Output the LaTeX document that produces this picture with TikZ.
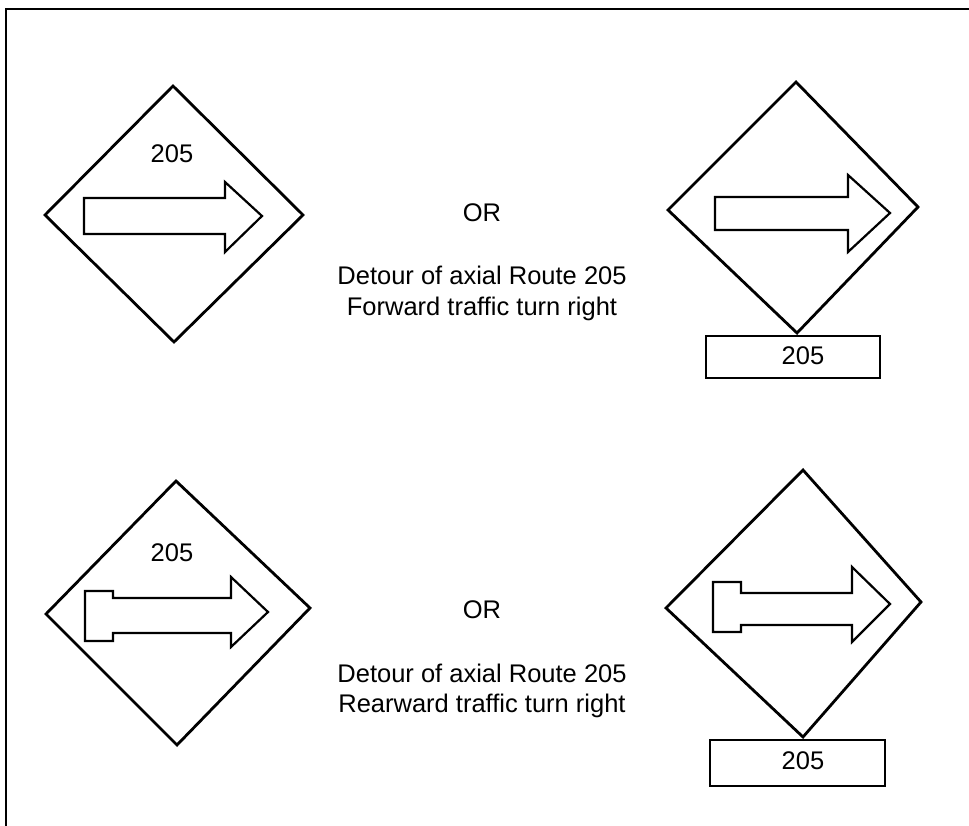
\documentclass[tikz,border=0pt]{standalone}
\usepackage{fontspec}
\setmainfont{Liberation Sans}
\begin{document}
\begin{tikzpicture}[x=1pt,y=-1pt,
  sign/.style={line width=2.8pt,line join=miter},
  arrowshape/.style={line width=2.2pt,line join=miter},
  plate/.style={line width=2.4pt},
  lbl/.style={anchor=base,inner sep=0pt,font=\fontsize{25.5}{31}\selectfont}]
\useasboundingbox (0,0) rectangle (969,826);
% frame
\draw[line width=2pt] (6,826) -- (6,9) -- (969,9);
% ---- sign 1 ----
\draw[sign] (173,86) -- (303,215) -- (174,342) -- (45,215) -- cycle;
\node[lbl] (n1) at (172,163) {205};
\draw[arrowshape] (84,198) -- (225,198) -- (225,182) -- (262,216) -- (225,252) -- (225,234) -- (84,234) -- cycle;
% ---- sign 2 ----
\draw[sign] (796,82) -- (918,207) -- (797,333) -- (668,210) -- cycle;
\draw[arrowshape] (715,197) -- (848,197) -- (848,175) -- (890,213) -- (848,252) -- (848,230) -- (715,230) -- cycle;
\draw[plate] (706,336) rectangle (880,378);
\node[lbl] (n2) at (803,364) {205};
% ---- sign 3 ----
\draw[sign] (176,481) -- (310,608) -- (177,745) -- (46,614) -- cycle;
\node[lbl] (n3) at (172,561) {205};
\draw[arrowshape] (85,591) -- (113,591) -- (113,598) -- (231,598) -- (231,577) -- (268,612) -- (231,647) -- (231,633) -- (113,633) -- (113,641) -- (85,641) -- cycle;
% ---- sign 4 ----
\draw[sign] (803,470) -- (921,602) -- (803,737) -- (666,608) -- cycle;
\draw[arrowshape] (713,582) -- (741,582) -- (741,593) -- (852,593) -- (852,567) -- (890,604) -- (852,642) -- (852,625) -- (741,625) -- (741,632) -- (713,632) -- cycle;
\draw[plate] (710,740) rectangle (885,786);
\node[lbl] (n4) at (803,769) {205};
% ---- texts ----
\node[lbl] (or1) at (482,222) {OR};
\node[lbl] (t1a) at (482,285) {Detour of axial Route 205};
\node[lbl] (t1b) at (482,316) {Forward traffic turn right};
\node[lbl] (or2) at (482,618) {OR};
\node[lbl] (t2a) at (482,682) {Detour of axial Route 205};
\node[lbl] (t2b) at (482,712) {Rearward traffic turn right};
\end{tikzpicture}
\end{document}
